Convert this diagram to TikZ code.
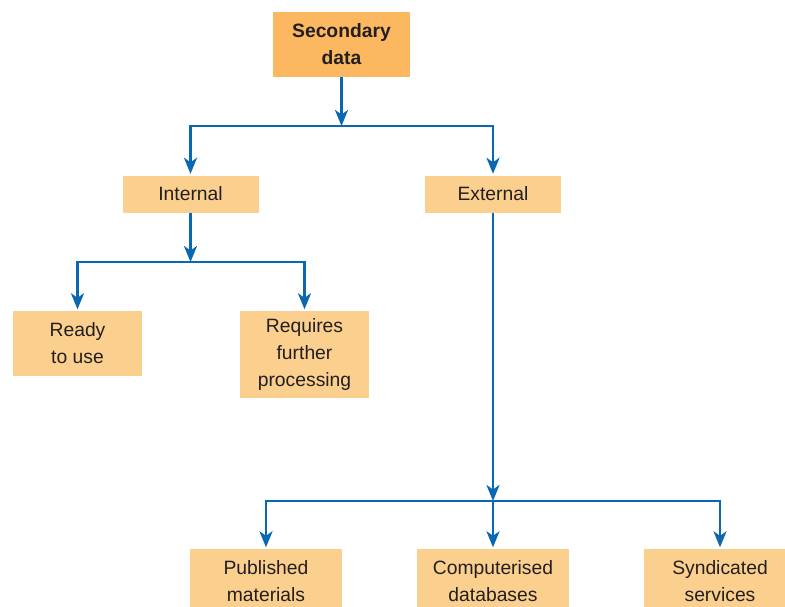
\documentclass[tikz,border=0pt]{standalone}
\usepackage{fontspec}
\setmainfont{Liberation Sans}
\usetikzlibrary{arrows.meta}
\definecolor{boxlight}{HTML}{FBCF8D}
\definecolor{boxdark}{HTML}{FBB860}
\definecolor{lineblue}{HTML}{0A67B2}
\definecolor{txt}{HTML}{231F20}
\tikzset{
  box/.style={fill=boxlight, draw=none, inner sep=0pt, align=center, text=txt,
    font=\fontsize{19.3}{27}\selectfont, minimum width=136pt, minimum height=37pt},
  topbox/.style={box, fill=boxdark, font=\fontsize{19.3}{27}\selectfont\bfseries},
  conn/.style={draw=lineblue, line width=2.6pt, line join=miter,
    -{Stealth[length=16pt,width=13pt,inset=4.5pt]}},
  tobox/.style={conn, shorten >=1.5pt}
}
\begin{document}
\begin{tikzpicture}[x=1pt,y=-1pt]
\useasboundingbox (0,0) rectangle (785,606);
\begin{scope}
\clip (0,0) rectangle (785,606);
\node[topbox, minimum width=137pt, minimum height=65pt] (sec) at (341.5,44.5) {Secondary\\data};
\node[box] (int) at (190.5,194) {Internal};
\node[box] (ext) at (493,194) {External};
\node[box, minimum width=129pt, minimum height=65pt] (ready) at (77.5,343.5) {Ready\\to use};
\node[box, minimum width=129pt, minimum height=87pt] (req) at (304.5,354.5) {Requires\\further\\processing};
\node[box, minimum width=152pt, minimum height=64pt] (pub) at (266,581) {Published\\materials};
\node[box, minimum width=152pt, minimum height=64pt] (comp) at (493,581) {Computerised\\databases};
\node[box, minimum width=152pt, minimum height=64pt] (synd) at (720,581) {Syndicated\\services};
\end{scope}
\coordinate (j1) at (341.5,126);
\coordinate (j2) at (190.5,262);
\coordinate (j3) at (493,501);
\draw[conn] (sec.south) -- (j1);
\draw[tobox] (j1) -| (int.north);
\draw[tobox] (j1) -| (ext.north);
\draw[conn] (int.south) -- (j2);
\draw[tobox] (j2) -| (ready.north);
\draw[tobox] (j2) -| (req.north);
\draw[conn] (ext.south) -- (j3);
\draw[tobox] (j3) -| (pub.north);
\draw[tobox] (j3) -- (comp.north);
\draw[tobox] (j3) -| (synd.north);
\end{tikzpicture}
\end{document}
